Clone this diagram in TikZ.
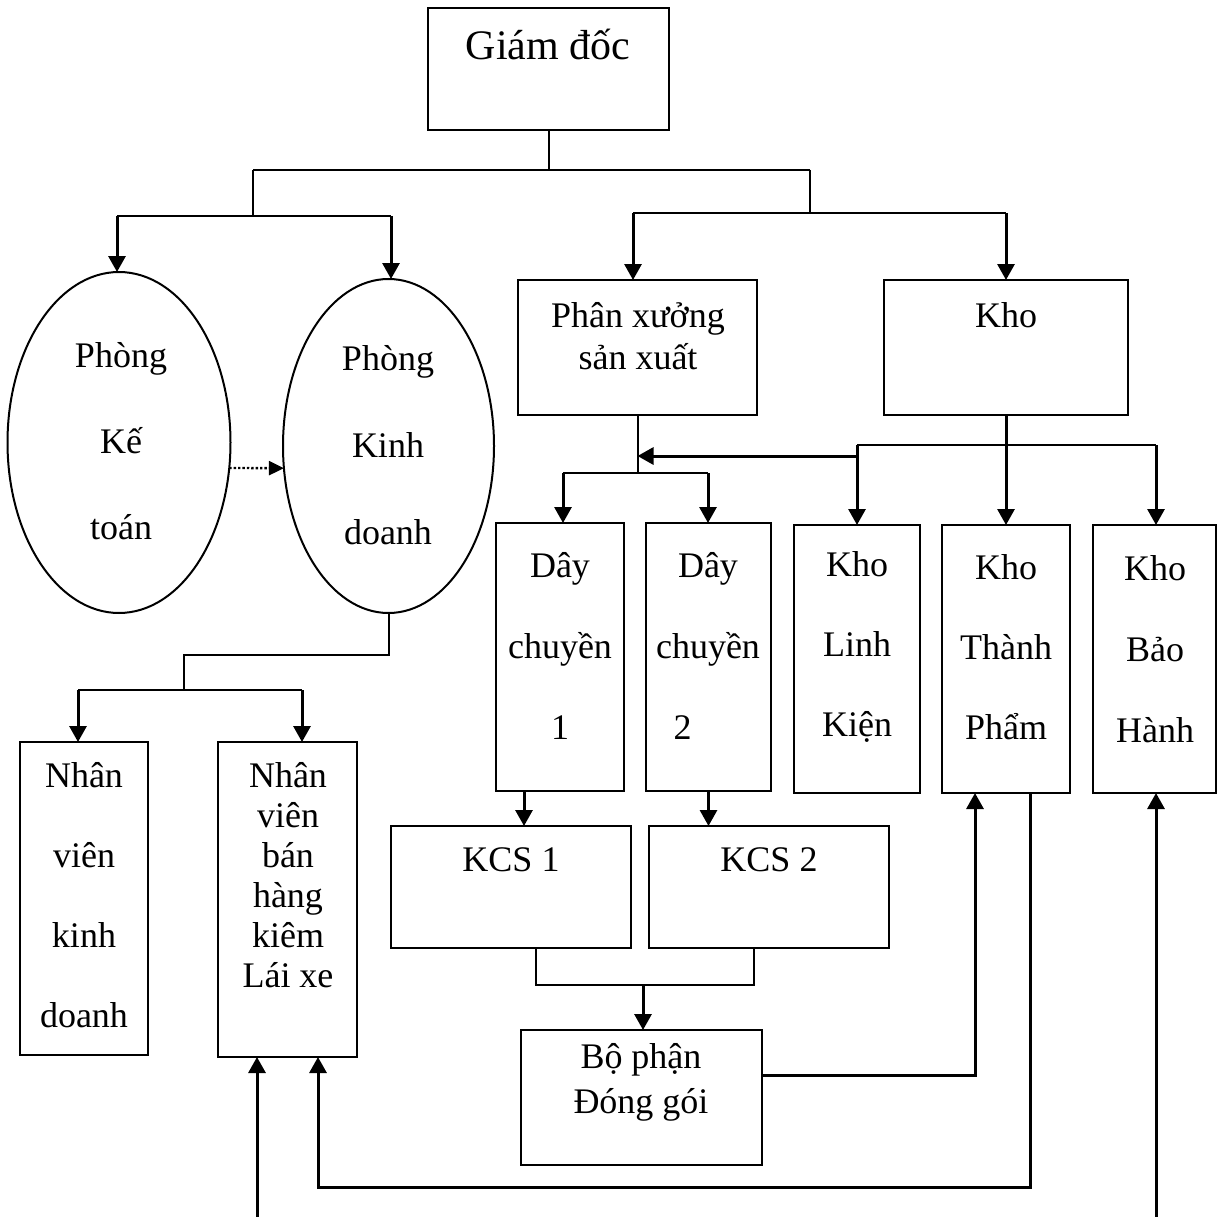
\documentclass[tikz,border=0pt]{standalone}
\usepackage{fontspec}
\setmainfont{Liberation Serif}
\usetikzlibrary{arrows.meta,shapes.geometric}
\begin{document}
\begin{tikzpicture}[x=1pt,y=-1pt,
  bx/.style={draw,line width=2pt,inner sep=0pt,outer sep=0pt,rectangle},
  ell/.style={draw,line width=2pt,inner sep=0pt,outer sep=0pt,ellipse},
  ln/.style={line width=2pt},
  arr/.style={line width=3pt,-{Triangle[length=16pt,width=17pt]}},
  dotarr/.style={line width=2.4pt,dotted,-{Triangle[length=15pt,width=14pt]}},
  txt/.style={align=center,inner sep=0pt,font=\fontsize{36}{43}\selectfont}]
\useasboundingbox (0,0) rectangle (1218,1217);
\fill[white] (0,0) rectangle (1218,1217);

% boxes
\node[bx,minimum width=241pt,minimum height=122pt] (gd) at (548.5,69) {};
\node[ell,minimum width=223pt,minimum height=341pt] (pk) at (119,442.5) {};
\node[ell,minimum width=211pt,minimum height=334pt] (pkd) at (388.5,446) {};
\node[bx,minimum width=239pt,minimum height=135pt] (px) at (637.5,347.5) {};
\node[bx,minimum width=244pt,minimum height=135pt] (kho) at (1006,347.5) {};
\node[bx,minimum width=128pt,minimum height=268pt] (dc1) at (560,657) {};
\node[bx,minimum width=125pt,minimum height=268pt] (dc2) at (708.5,657) {};
\node[bx,minimum width=126pt,minimum height=268pt] (klk) at (857,659) {};
\node[bx,minimum width=128pt,minimum height=268pt] (ktp) at (1006,659) {};
\node[bx,minimum width=123pt,minimum height=268pt] (kbh) at (1154.5,659) {};
\node[bx,minimum width=240pt,minimum height=122pt] (kcs1) at (511,887) {};
\node[bx,minimum width=240pt,minimum height=122pt] (kcs2) at (769,887) {};
\node[bx,minimum width=241pt,minimum height=135pt] (bp) at (641.5,1097.5) {};
\node[bx,minimum width=128pt,minimum height=313pt] (nvkd) at (84,898.5) {};
\node[bx,minimum width=139pt,minimum height=315pt] (nvbh) at (287.5,899.5) {};

% texts
\node[txt,font=\fontsize{42}{50}\selectfont] (gdT) at (548,45) {Giám đốc};
\node[txt,font=\fontsize{36}{86}\selectfont] (pkT) at (121,441) {Phòng\\Kế\\toán};
\node[txt,font=\fontsize{36}{87}\selectfont] (pkdT) at (388,445) {Phòng\\Kinh\\doanh};
\node[txt,font=\fontsize{36}{42}\selectfont] (pxT) at (638,336) {Phân xưởng\\sản xuất};
\node[txt] (khoT) at (1006,315) {Kho};
\node[txt,font=\fontsize{36}{81}\selectfont] (dc1T) at (560,646) {Dây\\chuyền\\1};
\node[txt,font=\fontsize{36}{81}\selectfont] (dc2T) at (708,646) {Dây\\chuyền\\2\rule{51pt}{0pt}};
\node[txt,font=\fontsize{36}{80}\selectfont] (klkT) at (857,647) {Kho\\Linh\\Kiện};
\node[txt,font=\fontsize{36}{80}\selectfont] (ktpT) at (1006,647) {Kho\\Thành\\Phẩm};
\node[txt,font=\fontsize{36}{81}\selectfont] (kbhT) at (1155,649) {Kho\\Bảo\\Hành};
\node[txt] (kcs1T) at (511,860) {KCS 1};
\node[txt] (kcs2T) at (769,860) {KCS 2};
\node[txt,font=\fontsize{36}{45}\selectfont] (bpT) at (641,1082) {Bộ phận\\Đóng gói};
\node[txt,font=\fontsize{36}{80}\selectfont] (nvkdT) at (84,895) {Nhân\\viên\\kinh\\doanh};
\node[txt,font=\fontsize{36}{40}\selectfont] (nvbhT) at (288,875) {Nhân\\viên\\bán\\hàng\\kiêm\\Lái xe};

% junction coordinates
\coordinate (j0) at (547,170);
\coordinate (jL0) at (253,170);
\coordinate (jR0) at (810,170);
\coordinate (jL1) at (253,216);
\coordinate (a1) at (117,216);
\coordinate (a2) at (391,216);
\coordinate (jR1) at (810,213);
\coordinate (b1) at (633,213);
\coordinate (b2) at (1006,213);
\coordinate (d1) at (184,655);
\coordinate (d2) at (184,690);
\coordinate (c1) at (78,690);
\coordinate (c2) at (302,690);
\coordinate (e1) at (563,473);
\coordinate (e2) at (708,473);
\coordinate (f1) at (857,456);
\coordinate (g1) at (857,445);
\coordinate (g2) at (1156,445);
\coordinate (h1) at (524,800);
\coordinate (k1) at (536,985);
\coordinate (k2) at (754,985);
\coordinate (k3) at (643,985);
\coordinate (m1) at (975,1075);
\coordinate (n1) at (1030,1187);
\coordinate (n2) at (318,1187);
\coordinate (p1) at (257,1217);
\coordinate (q1) at (1156,1217);

% connectors
\draw[ln] (gd.south) -- (gd.south |- j0);
\draw[ln] (jL0) -- (jR0);
\draw[ln] (jL0) -- (jL1);
\draw[ln] (a1) -- (a2);
\draw[arr] (a1) -- (a1 |- pk.north);
\draw[arr] (a2) -- (a2 |- pkd.north);
\draw[ln] (jR0) -- (jR1);
\draw[ln] (b1) -- (b2);
\draw[arr] (b1) -- (b1 |- px.north);
\draw[arr] (b2) -- (kho.north);
\draw[dotarr] (pk.-13) -- (pkd.192);
\draw[ln] (pkd.south) |- (d1) -- (d2);
\draw[ln] (c1) -- (c2);
\draw[arr] (c1) -- (c1 |- nvkd.north);
\draw[arr] (c2) -- (c2 |- nvbh.north);
\draw[ln] (px.south) -- (px.south |- e1);
\draw[ln] (e1) -- (e2);
\draw[arr] (e1) -- (e1 |- dc1.north);
\draw[arr] (e2) -- (e2 |- dc2.north);
\draw[arr] (f1) -- (px.south |- f1);
\draw[ln] (g1) -- (g2);
\draw[arr] (g1) -- (klk.north);
\draw[arr] (g2) -- (g2 |- kbh.north);
\draw[arr] (kho.south) -- (ktp.north);
\draw[arr] (dc1.south -| h1) -- (h1 |- kcs1.north);
\draw[arr] (dc2.south) -- (dc2.south |- kcs2.north);
\draw[ln] (kcs1.south -| k1) -- (k1) -- (k2) -- (kcs2.south -| k2);
\draw[arr] (k3) -- (k3 |- bp.north);
\draw[arr] (bp.east |- m1) -| (m1 |- ktp.south);
\draw[arr] (ktp.south -| n1) -- (n1) -- (n2) -- (n2 |- nvbh.south);
\draw[arr] (p1) -- (p1 |- nvbh.south);
\draw[arr] (q1) -- (q1 |- kbh.south);
\end{tikzpicture}
\end{document}
